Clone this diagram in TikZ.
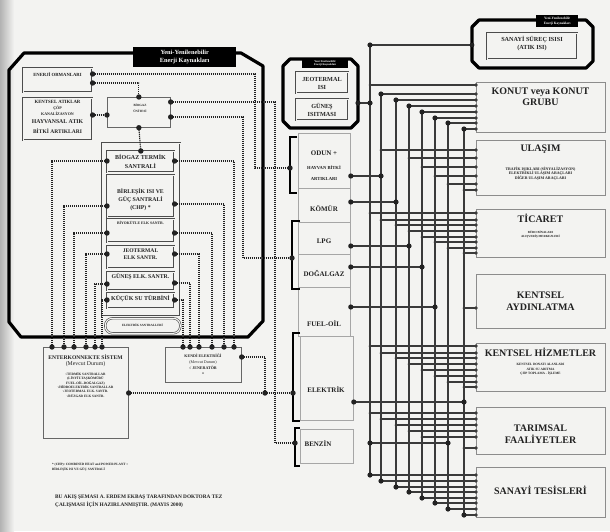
\documentclass[tikz,border=0pt]{standalone}
\usepackage{fontspec}
\setmainfont{Liberation Serif}
\usetikzlibrary{calc}
\newcommand\fsz[2]{\fontsize{#1}{#2}\selectfont}
\definecolor{pap}{HTML}{F3F3F1}
\definecolor{ink}{HTML}{222222}
\definecolor{busc}{HTML}{3A3A3A}
\begin{document}
\begin{tikzpicture}[x=1pt,y=-1pt,
  frm/.style={draw=black, line width=3.2pt, line join=round},
  ttl/.style={fill=black, text=white, inner sep=0pt, align=center, anchor=north west},
  dbox/.style={draw=black!70, line width=0.6pt, double=pap, double distance=1.1pt, inner sep=0pt, anchor=north west},
  sbox/.style={draw=black!60, line width=0.7pt, inner sep=0pt, anchor=north west},
  cbox/.style={draw=black!45, line width=1pt, inner sep=0pt, anchor=north west},
  fbox/.style={draw=black!35, line width=0.8pt, inner sep=0pt, anchor=north west},
  lbl/.style={inner sep=0pt, align=center, text=ink},
  dotl/.style={draw=ink, line width=1.2pt, dash pattern=on 1.1pt off 0.9pt},
  bus/.style={draw=busc, line width=1.5pt},
  brk/.style={draw=black, line width=2.6pt, line join=miter},
]
\useasboundingbox (0,0) rectangle (610,531);
\fill[pap] (0,0) rectangle (610,531);
\shade[left color=black!30, right color=pap] (0,0) rectangle (14,531);

% ---------- left frame ----------
\draw[frm] (9,70) -- (24,53) -- (241,53) -- (263,66) -- (263,321) -- (248,337) -- (21,337) -- (9,322) -- cycle;
\node[ttl, minimum width=103pt, minimum height=20pt, font=\bfseries\fsz{6.3}{7.5}] (ttlL) at (133,47) {Yeni-Yenilenebilir\\Enerji Kaynakları};

\node[dbox, minimum width=69pt, minimum height=24pt] (enerji) at (23,68) {};
\node[lbl, font=\bfseries\fsz{4.7}{5}] (enerjiT) at (57.5,75) {ENERJİ ORMANLARI};
\node[dbox, minimum width=69pt, minimum height=42pt] (atik) at (23,98) {};
\node[lbl, font=\bfseries\fsz{4.8}{5}] (atk1) at (57.5,102) {KENTSEL ATIKLAR};
\node[lbl, font=\bfseries\fsz{4}{5}] (atk2) at (57.5,108) {ÇÖP};
\node[lbl, font=\bfseries\fsz{4}{5}] (atk3) at (57.5,114) {KANALİZASYON};
\node[lbl, font=\bfseries\fsz{5.8}{6}] (atk4) at (57.5,122) {HAYVANSAL ATIK};
\node[lbl, font=\bfseries\fsz{5.5}{6}] (atk5) at (57.5,131) {BİTKİ ARTIKLARI};

\node[sbox, minimum width=63pt, minimum height=30pt] (biogaz) at (107,97) {};
\node[lbl, font=\bfseries\fsz{3.2}{6}] (biogazT) at (140,108) {BİOGAZ\\ÜNİTESİ};

\node[dbox, minimum width=78pt, minimum height=173pt] (col) at (102,143) {};
\node[dbox, minimum width=67pt, minimum height=21pt] (bt) at (107,151) {};
\node[lbl, font=\bfseries\fsz{6}{8.5}] (btT) at (140.5,161.5) {BİOGAZ TERMİK\\SANTRALİ};
\node[dbox, minimum width=67pt, minimum height=42pt] (chp) at (107,175) {};
\node[lbl, font=\bfseries\fsz{5.8}{8}] (chpT) at (140.5,200) {BİRLEŞİK ISI VE\\GÜÇ SANTRALİ\\(CHP) *};
\node[dbox, minimum width=67pt, minimum height=23pt] (biyo) at (107,219) {};
\node[lbl, font=\bfseries\fsz{3.8}{4}] (biyoT) at (140.5,223) {BİYOKÜTLE ELK SANTR.};
\node[dbox, minimum width=67pt, minimum height=22pt] (jeo) at (107,246) {};
\node[lbl, font=\bfseries\fsz{5.6}{7.5}] (jeoT) at (140.5,254) {JEOTERMAL\\ELK SANTR.};
\node[dbox, minimum width=67pt, minimum height=18pt] (gun) at (107,272) {};
\node[lbl, font=\bfseries\fsz{5.8}{6}] (gunT) at (140.5,277) {GÜNEŞ ELK. SANTR.};
\node[dbox, minimum width=67pt, minimum height=15pt] (kuc) at (107,293) {};
\node[lbl, font=\bfseries\fsz{6}{6}] (kucT) at (140.5,298.5) {KÜÇÜK SU TÜRBİNİ};
\node[dbox, rounded corners=7pt, minimum width=75pt, minimum height=15pt] (elks) at (105,318) {};
\node[lbl, font=\bfseries\fsz{3.2}{4}] (elksT) at (142.5,325.5) {ELEKTRİK SANTRALLERİ};

% ---------- lower left ----------
\node[sbox, minimum width=85pt, minimum height=91pt] (ent) at (43,347) {};
\node[lbl, font=\bfseries\fsz{5.6}{6}] (entT) at (85.5,357) {ENTERKONNEKTE SİSTEM};
\node[lbl, font=\fsz{5.8}{6}] (entM) at (85.5,364) {(Mevcut Durum)};
\node[lbl, font=\bfseries\fsz{3.4}{4.3}] (entL) at (85.5,385) {√TERMİK SANTRALLAR\\(LİNYİT-TAŞKÖMÜRÜ\\FUEL-OİL-DOĞALGAZ)\\√HİDROELEKTRİK SANTRALLAR\\√JEOTERMAL ELK. SANTR.\\√RÜZGAR ELK SANTR.};
\node[sbox, minimum width=76pt, minimum height=35pt] (kendi) at (165,347) {};
\node[lbl, font=\bfseries\fsz{4}{6}] (kendiT) at (203,365) {KENDİ ELEKTRİĞİ\\{\normalfont(Mevcut Durum)}\\√ JENERATÖR\\*};
\node[lbl, anchor=west, align=left, font=\bfseries\fsz{3.3}{5}] (foot) at (52,467.5) {* (CHP): COMBINED HEAT and POWER PLANT =\\BİRLEŞİK ISI VE GÜÇ SANTRALİ};
\node[lbl, anchor=west, align=left, font=\bfseries\fsz{5.3}{8}] (note) at (55,501) {BU AKIŞ ŞEMASI A. ERDEM EKBAŞ TARAFINDAN DOKTORA TEZ\\ÇALIŞMASI İÇİN HAZIRLANMIŞTIR. (MAYIS 2000)};

% ---------- middle ----------
\draw[frm] (283,66) -- (290,59) -- (351,59) -- (358,66) -- (358,121) -- (351,128) -- (290,128) -- (283,121) -- cycle;
\node[ttl, minimum width=46pt, minimum height=9pt, font=\bfseries\fsz{2.8}{3.6}] (ttlM) at (302,58.5) {Yeni-Yenilenebilir\\Enerji Kaynakları};
\node[dbox, minimum width=52pt, minimum height=21pt] (jisi) at (296,72) {};
\node[lbl, font=\bfseries\fsz{6.2}{8}] (jisiT) at (322,83) {JEOTERMAL\\ISI};
\node[dbox, minimum width=52pt, minimum height=21pt] (gisi) at (296,99) {};
\node[lbl, font=\bfseries\fsz{6.2}{8}] (gisiT) at (322,109.5) {GÜNEŞ\\ISITMASI};
\coordinate (mfr) at (358,103);

\node[fbox, minimum width=52pt, minimum height=55pt] (odun) at (298,133) {};
\node[fbox, minimum width=52pt, minimum height=34pt] (komur) at (298,188) {};
\node[fbox, minimum width=52pt, minimum height=32pt] (lpg) at (298,222) {};
\node[fbox, minimum width=52pt, minimum height=33pt] (dogal) at (298,254) {};
\node[fbox, minimum width=52pt, minimum height=49pt] (fuel) at (298,287) {};
\node[fbox, minimum width=53pt, minimum height=84pt] (elek) at (300,336) {};
\node[fbox, minimum width=53pt, minimum height=34pt] (benzin) at (300,429) {};
\node[lbl, font=\bfseries\fsz{7}{7}] (odunT) at (324,153) {ODUN +};
\node[lbl, font=\bfseries\fsz{4.6}{5}] (odunT2) at (324,168) {HAYVAN BİTKİ};
\node[lbl, font=\bfseries\fsz{4.6}{5}] (odunT3) at (324,179) {ARTIKLARI};
\node[lbl, font=\bfseries\fsz{7}{7}] (komurT) at (324,209) {KÖMÜR};
\node[lbl, font=\bfseries\fsz{7}{7}] (lpgT) at (324,241) {LPG};
\node[lbl, font=\bfseries\fsz{7}{7}] (dogalT) at (324,273) {DOĞALGAZ};
\node[lbl, font=\bfseries\fsz{7}{7}] (fuelT) at (324,324) {FUEL-OİL};
\node[lbl, font=\bfseries\fsz{7}{7}] (elekT) at (326,389) {ELEKTRİK};
\node[lbl, font=\bfseries\fsz{7}{7}] (benzinT) at (318,444) {BENZİN};

\draw[brk] (297,137) -- (290,137) -- (290,193) -- (297,193);
\draw[brk] (300,221) -- (292,221) -- (292,289) -- (300,289);
\draw[brk] (300,333) -- (293,333) -- (293,421) -- (300,421);
\draw[brk] (300,428) -- (295,428) -- (295,466) -- (300,466);
\coordinate (obr) at (290,168);
\coordinate (lbr) at (292,258);
\coordinate (ebr) at (293,393);
\coordinate (bbr) at (295,443);
\coordinate (kj) at (265,393);

% ---------- right ----------
\draw[frm] (472,27) -- (479,20) -- (586,20) -- (593,27) -- (593,61) -- (586,68) -- (479,68) -- (472,61) -- cycle;
\node[ttl, minimum width=42pt, minimum height=12pt, font=\bfseries\fsz{3.4}{4.5}] (ttlT) at (536,15) {Yeni-Yenilenebilir\\Enerji Kaynakları};
\node[dbox, minimum width=90pt, minimum height=26pt] (sst) at (487,33) {};
\node[lbl, font=\bfseries\fsz{6.2}{8}] (sstT) at (532,43) {SANAYİ SÜREÇ ISISI\\(ATIK ISI)};
\coordinate (sstf) at (472,45);

\node[cbox, minimum width=129pt, minimum height=50pt] (konut) at (476,82) {};
\node[cbox, minimum width=129pt, minimum height=55pt] (ulasim) at (476,140) {};
\node[cbox, minimum width=129pt, minimum height=48pt] (ticaret) at (476,209) {};
\node[cbox, minimum width=129pt, minimum height=54pt] (aydin) at (476,274) {};
\node[cbox, minimum width=129pt, minimum height=48pt] (hizmet) at (476,343) {};
\node[cbox, minimum width=129pt, minimum height=47pt] (tarim) at (476,407) {};
\node[cbox, minimum width=129pt, minimum height=50pt] (sanayi) at (476,467) {};

\node[lbl, font=\bfseries\fsz{10}{11}] (konutT) at (540.5,97) {KONUT veya KONUT\\GRUBU};
\node[lbl, font=\bfseries\fsz{10}{10}] (ulasimT) at (540.5,149) {ULAŞIM};
\node[lbl, font=\bfseries\fsz{3.9}{4.6}] (ulasimS) at (540.5,173.5) {TRAFİK IŞIKLARI (SİNYALİZASYON)\\ELEKTRİKLİ ULAŞIM ARAÇLARI\\DİĞER ULAŞIM ARAÇLARI};
\node[lbl, font=\bfseries\fsz{10}{10}] (ticT) at (540.5,218) {TİCARET};
\node[lbl, font=\bfseries\fsz{3.1}{4.6}] (ticS) at (540.5,234.5) {BÜRO BİNALARI\\ALIŞVERİŞ MERKEZLERİ};
\node[lbl, font=\bfseries\fsz{10}{12}] (aydT) at (540.5,301) {KENTSEL\\AYDINLATMA};
\node[lbl, font=\bfseries\fsz{10}{10}] (hizT) at (540.5,352) {KENTSEL HİZMETLER};
\node[lbl, font=\bfseries\fsz{3.3}{4.5}] (hizS) at (540.5,369.5) {KENTSEL DONATI ALANLARI\\ATIK SU ARITMA\\ÇÖP TOPLAMA - İŞLEME};
\node[lbl, font=\bfseries\fsz{10}{12.5}] (tarT) at (540.5,434) {TARIMSAL\\FAALİYETLER};
\node[lbl, font=\bfseries\fsz{10}{10}] (sanT) at (540.5,490) {SANAYİ TESİSLERİ};

% ---------- bus grid ----------
\foreach \i/\xx/\tt/\bb in {0/370/45/475,1/381/94/481,2/396/100/487,3/409/106/492,4/422/112/498,5/435/118/503,6/448/123/509,7/464/129/515}{
  \coordinate (vt\i) at (\xx,\tt);
  \coordinate (vb\i) at (\xx,\bb);
}
\foreach \i in {0,...,7} \draw[bus] (vt\i) -- (vb\i);
\draw[bus] (vt0) -- (sstf);
\foreach \s/\yy/\bx in {0/85/konut,1/94/konut,2/100/konut,3/106/konut,4/112/konut,5/118/konut,6/123/konut,7/129/konut,
  1/150/ulasim,3/158/ulasim,4/167/ulasim,5/176/ulasim,6/184/ulasim,7/190/ulasim,
  0/213/ticaret,1/220/ticaret,2/225/ticaret,3/231/ticaret,4/237/ticaret,5/242/ticaret,6/248/ticaret,7/253/ticaret,
  7/308/aydin,
  0/346/hizmet,1/353/hizmet,2/358/hizmet,3/364/hizmet,4/370/hizmet,5/376/hizmet,6/382/hizmet,7/387/hizmet,
  0/413/tarim,1/419/tarim,2/425/tarim,3/431/tarim,4/437/tarim,7/448/tarim,
  0/475/sanayi,1/481/sanayi,2/487/sanayi,3/492/sanayi,4/498/sanayi,5/503/sanayi,6/509/sanayi,7/515/sanayi}{
  \draw[bus] (vt\s |- 0,\yy) -- (\bx.west |- 0,\yy);
  \fill[busc] (vt\s |- 0,\yy) circle (1.5pt);
  \fill[busc] (\bx.west |- 0,\yy) circle (1.8pt);
}
\foreach \n/\yy/\v in {odun/176/1,komur/202/2,lpg/246/3,dogal/267/4,fuel/307/5,elek/402/7}{
  \draw[bus] (\n.east |- 0,\yy) -- (vt\v |- 0,\yy);
  \fill[ink] (\n.east |- 0,\yy) circle (2.6pt);
  \fill[ink] (vt\v |- 0,\yy) circle (2.6pt);
}
\draw[bus] (vt0 |- 0,443) -- (vt6 |- 0,443);
\fill[ink] (vt0 |- 0,443) circle (2.6pt);
\fill[ink] (vt6 |- 0,443) circle (2.6pt);
\draw[bus] (mfr) -- (vt0 |- mfr);
\fill[ink] (mfr) circle (2.6pt);
\fill[ink] (vt0 |- mfr) circle (2.6pt);
\foreach \i in {0,...,7}{\fill[ink] (vt\i) circle (2.6pt); \fill[ink] (vb\i) circle (2.6pt);}
\fill[ink] (sstf) circle (2.4pt);

% ---------- dotted connections ----------
\draw[dotl] (enerji.east |- 0,74) -| (255,168) -- (obr);
\draw[dotl] (enerji.east |- 0,83) -| (biogaz.north);
\draw[dotl] (atik.east |- 0,115) -- (biogaz.west |- 0,115);
\draw[dotl] (biogaz.east |- 0,102) -| (275,443) -- (bbr);
\draw[dotl] (biogaz.east |- 0,117) -| (243,258) -- (lbr);
\draw[dotl] (biogaz.south) -- (bt.north);
\draw[dotl] (ent.east |- 0,393) -- (ebr);
\draw[dotl] (kendi.east |- 0,357) -| (kj);
\foreach \p in {(enerji.east |- 0,74),(enerji.east |- 0,83),(atik.east |- 0,115),(biogaz.west |- 0,115),(biogaz.north),(biogaz.south),(bt.north),(biogaz.east |- 0,102),(biogaz.east |- 0,117),(ent.east |- 0,393),(kendi.east |- 0,357),(kj),(obr),(lbr),(ebr),(bbr)}
  \fill[ink] \p circle (2.7pt);
\foreach \n/\yl/\xl/\yr/\xr in {bt/161/52/161/234,chp/206/64/204/224,biyo/233/74/233/212,jeo/254/86/254/199,gun/284/95/283/190,kuc/300/102/300/183}{
  \draw[dotl] (\n.west |- 0,\yl) -| (ent.north -| \xl,0);
  \draw[dotl] (\n.east |- 0,\yr) -| (kendi.north -| \xr,0);
  \fill[ink] (\n.west |- 0,\yl) circle (2.7pt);
  \fill[ink] (\n.east |- 0,\yr) circle (2.7pt);
  \fill[ink] (ent.north -| \xl,0) circle (2.7pt);
  \fill[ink] (kendi.north -| \xr,0) circle (2.7pt);
}
\end{tikzpicture}
\end{document}
